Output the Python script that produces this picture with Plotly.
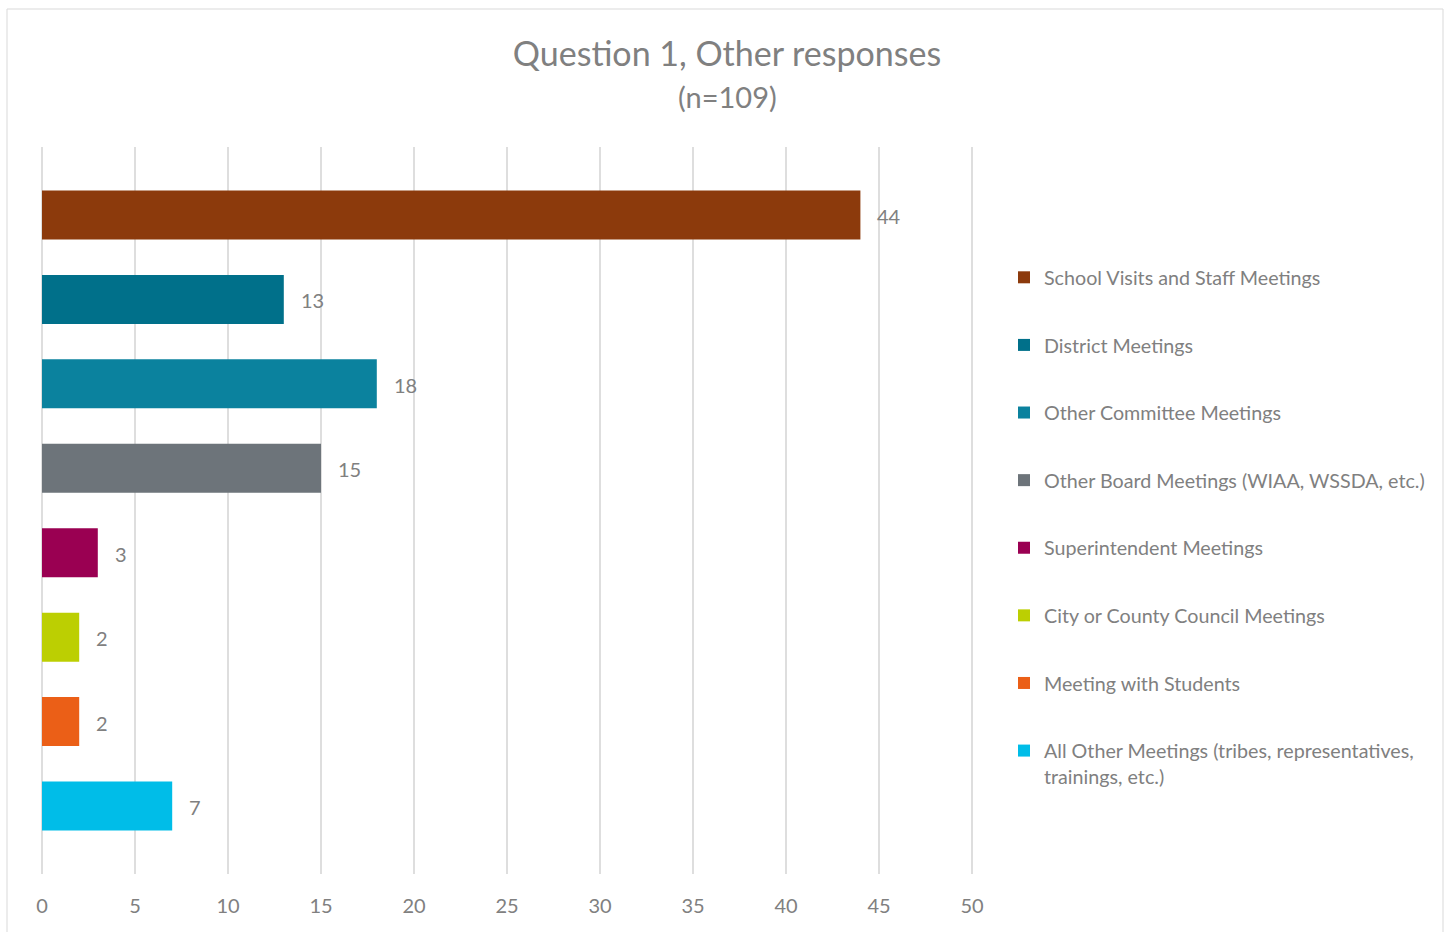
import plotly.graph_objects as go

# Survey results: Question 1, "Other" responses grouped by meeting type
categories = [
    "School Visits and Staff Meetings",
    "District Meetings",
    "Other Committee Meetings",
    "Other Board Meetings (WIAA, WSSDA, etc.)",
    "Superintendent Meetings",
    "City or County Council Meetings",
    "Meeting with Students",
    "All Other Meetings (tribes, representatives,<br>trainings, etc.)",
]
counts = [44, 13, 18, 15, 3, 2, 2, 7]
colors = ["#8C3A0C", "#00708A", "#0B829E", "#6D747A",
          "#9A0052", "#BCCF02", "#EB5F17", "#00BDE8"]
x_ticks = [0, 5, 10, 15, 20, 25, 30, 35, 40, 45, 50]

W, H = 1445, 932
FONT = "Lato"
GRAY = "#808080"

# plot area in pixels (a few px of slack on the right so the 50 gridline shows)
PL, PR, PT, PB = 42, 975, 147, 874
X_MAX = 50 * (PR - PL) / 930

fig = go.Figure()
for i, (cat, val, col) in enumerate(zip(categories, counts, colors)):
    fig.add_trace(go.Bar(
        x=[val], y=[i], orientation="h", name=cat,
        marker=dict(color=col, line=dict(width=0)),
        legendgroup=f"g{i}", hoverinfo="x+name",
    ))
    # value label to the right of each bar
    fig.add_annotation(
        x=val, y=i, xref="x", yref="y", text=str(val),
        showarrow=False, xanchor="left", yanchor="middle",
        xshift=15, yshift=-1,
        font=dict(family=FONT, size=20, color=GRAY),
    )

pw, ph = PR - PL, PB - PT


def px_x(p):
    return (p - PL) / pw


def px_y(p):
    return (PB - p) / ph


# outer chart border
fig.add_shape(type="rect", xref="paper", yref="paper",
              x0=px_x(7), x1=px_x(1443), y0=px_y(940), y1=px_y(9),
              line=dict(color="#D9D9D9", width=1), fillcolor="rgba(0,0,0,0)",
              layer="below")

# subtitle
fig.add_annotation(x=px_x(727), y=px_y(96), xref="paper", yref="paper",
                   text="(n=109)", showarrow=False,
                   xanchor="center", yanchor="middle",
                   font=dict(family=FONT, size=29, color=GRAY))

fig.update_layout(
    width=W, height=H,
    margin=dict(l=PL, r=W - PR, t=PT, b=H - PB, pad=0),
    paper_bgcolor="white", plot_bgcolor="white",
    barmode="overlay", bargap=0.42,
    title=dict(text="Question 1, Other responses",
               x=727 / W, xanchor="center", xref="container",
               y=1 - 54 / H, yanchor="middle", yref="container",
               font=dict(family=FONT, size=34, color=GRAY)),
    font=dict(family=FONT, color=GRAY),
    xaxis=dict(range=[0, X_MAX], tickvals=x_ticks,
               showgrid=True, gridcolor="#DEDEDE", gridwidth=1.5,
               zeroline=True, zerolinecolor="#DEDEDE", zerolinewidth=1.5,
               showline=False, ticks="", ticklabelstandoff=18,
               tickfont=dict(family=FONT, size=20, color=GRAY),
               fixedrange=True),
    yaxis=dict(range=[7.805, -0.805], showticklabels=False,
               showgrid=False, zeroline=False, showline=False,
               fixedrange=True),
    showlegend=True,
    legend=dict(xref="container", yref="container",
                x=1004 / W, xanchor="left",
                y=1 - 258 / H, yanchor="top",
                valign="top", tracegroupgap=39, maxheight=900,
                font=dict(family=FONT, size=19.7, color=GRAY),
                bgcolor="rgba(0,0,0,0)"),
)

fig.write_html("out.html")
